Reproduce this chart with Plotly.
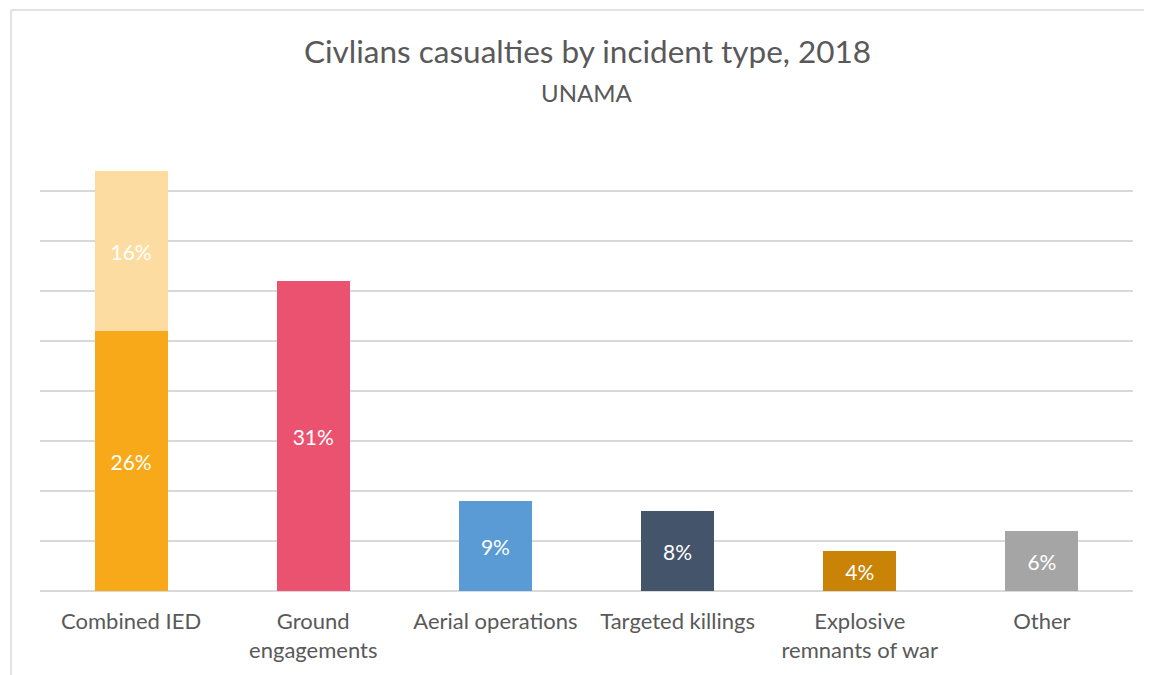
import plotly.graph_objects as go

categories = ["Combined IED", "Ground<br>engagements", "Aerial operations",
              "Targeted killings", "Explosive<br>remnants of war", "Other"]
main_values = [26, 31, 9, 8, 4, 6]
main_colors = ["#F8A91A", "#EA5270", "#5A9BD5", "#44546A", "#C98306", "#A5A5A5"]
extra_values = [16, None, None, None, None, None]
extra_color = "#FCDCA0"

title_text = "Civlians casualties by incident type, 2018"
subtitle_text = "UNAMA"

FONT = "Lato, 'Open Sans', sans-serif"
GRAY = "#595959"

fig = go.Figure()
fig.add_trace(go.Bar(
    x=categories, y=main_values,
    marker=dict(color=main_colors, line=dict(width=0)),
    text=[f"{v}%" for v in main_values], textposition="inside",
    insidetextanchor="middle",
    textfont=dict(family=FONT, size=21, color="white"),
    hoverinfo="x+y",
))
fig.add_trace(go.Bar(
    x=categories, y=extra_values,
    marker=dict(color=extra_color, line=dict(width=0)),
    text=[f"{v}%" if v is not None else "" for v in extra_values], textposition="inside",
    insidetextanchor="middle",
    textfont=dict(family=FONT, size=21, color="white"),
    hoverinfo="x+y",
))

fig.update_layout(
    width=1152, height=675,
    barmode="stack", bargap=0.6,
    showlegend=False,
    paper_bgcolor="white", plot_bgcolor="white",
    margin=dict(l=32, r=27, t=133, b=92),
    font=dict(family=FONT, color=GRAY),
    uniformtext=dict(mode=False),
    xaxis=dict(showgrid=False, zeroline=False, showline=False, ticks="",
               ticklabelstandoff=15,
               tickfont=dict(family=FONT, size=22, color=GRAY)),
    yaxis=dict(range=[0, 45], dtick=5, showticklabels=False, showgrid=True,
               gridcolor="#D9D9D9", gridwidth=2, zeroline=True,
               zerolinecolor="#D9D9D9", zerolinewidth=2, showline=False),
    annotations=[
        dict(text=title_text, xref="paper", yref="paper", x=0.5005, y=1.2,
             xanchor="center", yanchor="middle", showarrow=False,
             font=dict(family=FONT, size=31.5, color=GRAY)),
        dict(text=subtitle_text, xref="paper", yref="paper", x=0.5005, y=1.1067,
             xanchor="center", yanchor="middle", showarrow=False,
             font=dict(family=FONT, size=24, color=GRAY)),
    ],
    shapes=[
        dict(type="line", xref="paper", yref="paper", x0=-0.0265, x1=1.2,
             y0=1.291, y1=1.291, line=dict(color="#D9D9D9", width=1.5)),
        dict(type="line", xref="paper", yref="paper", x0=-0.0265, x1=-0.0265,
             y0=-0.5, y1=1.291, line=dict(color="#D9D9D9", width=1.5)),
    ],
)

fig.write_html("out.html")
